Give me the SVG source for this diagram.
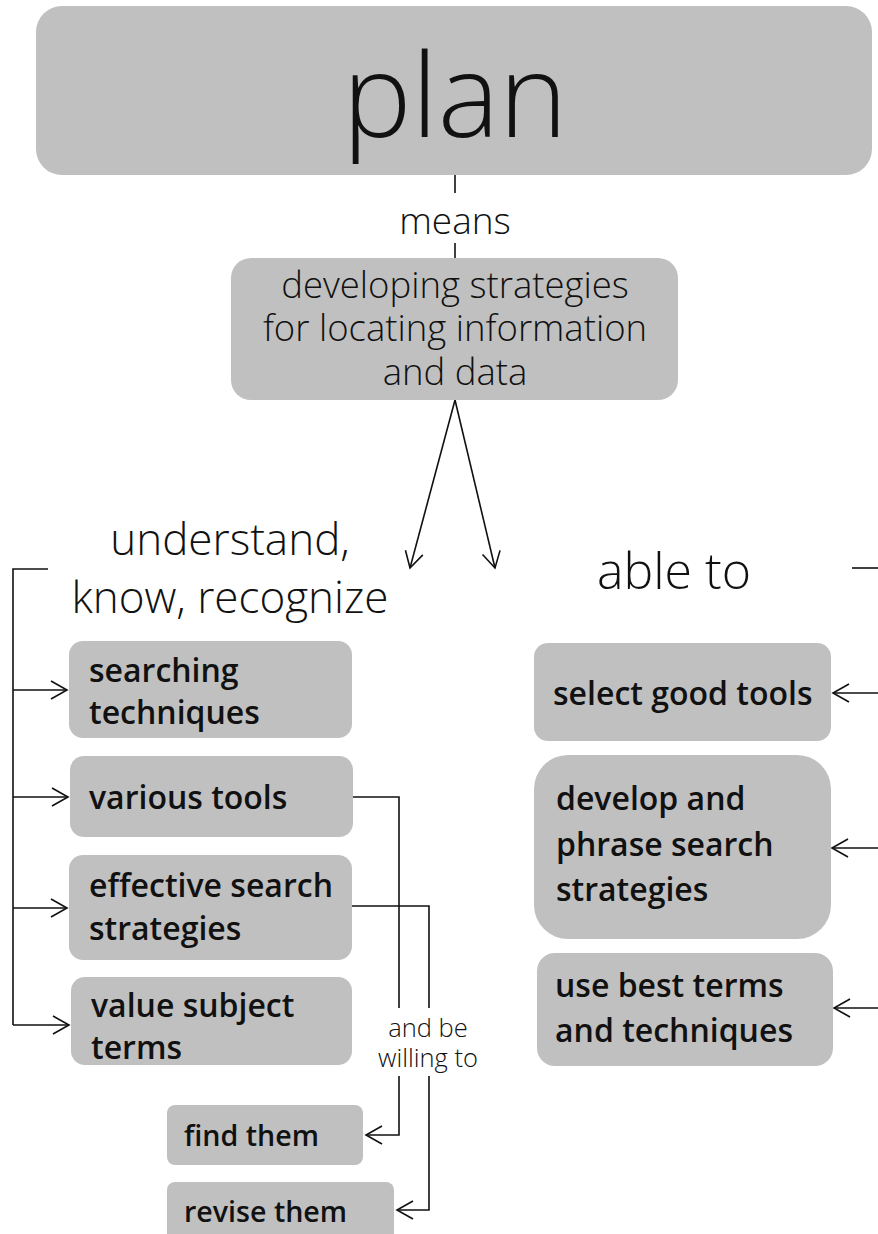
<svg xmlns="http://www.w3.org/2000/svg" width="878" height="1234" viewBox="0 0 878 1234">
<defs>
<style>
.box{fill:#c0c0c0;}
.lt{font-family:"Open Sans","Noto Sans","DejaVu Sans",sans-serif;font-weight:300;fill:#111;}
.bd{font-family:"Open Sans","Noto Sans","DejaVu Sans",sans-serif;font-weight:600;fill:#111;font-size:32px;}
.sm{font-size:28.6px;}
.ln{fill:none;stroke:#111;stroke-width:1.6;}
</style>
<marker id="ah" viewBox="0 0 20 20" refX="18" refY="10" markerWidth="20" markerHeight="20" markerUnits="userSpaceOnUse" orient="auto">
<path d="M2,1 L18,10 L2,19" fill="none" stroke="#111" stroke-width="1.6"/>
</marker>
</defs>
<rect width="878" height="1234" fill="#fff"/>

<g id="connectors">
<line class="ln" x1="455" y1="175" x2="455" y2="193"/>
<line class="ln" x1="455" y1="243" x2="455" y2="258"/>
<line class="ln" x1="455" y1="400" x2="410" y2="568" marker-end="url(#ah)"/>
<line class="ln" x1="455" y1="400" x2="495" y2="568" marker-end="url(#ah)"/>
<polyline class="ln" points="48,569 13,569 13,1025"/>
<line class="ln" x1="13" y1="690" x2="67" y2="690" marker-end="url(#ah)"/>
<line class="ln" x1="13" y1="797" x2="68" y2="797" marker-end="url(#ah)"/>
<line class="ln" x1="13" y1="908" x2="67" y2="908" marker-end="url(#ah)"/>
<line class="ln" x1="13" y1="1025" x2="69" y2="1025" marker-end="url(#ah)"/>
<polyline class="ln" points="353,797 399,797 399,1008"/>
<polyline class="ln" points="399,1076 399,1135 366,1135" marker-end="url(#ah)"/>
<polyline class="ln" points="352,906 429,906 429,1008"/>
<polyline class="ln" points="429,1076 429,1210 397,1210" marker-end="url(#ah)"/>
<line class="ln" x1="852" y1="568" x2="878" y2="568"/>
<line class="ln" x1="878" y1="693" x2="833" y2="693" marker-end="url(#ah)"/>
<line class="ln" x1="878" y1="848" x2="832" y2="848" marker-end="url(#ah)"/>
<line class="ln" x1="878" y1="1008" x2="834" y2="1008" marker-end="url(#ah)"/>
<text class="lt" x="455" y="234" font-size="37" text-anchor="middle">means</text>
<text class="lt" font-size="25.5" text-anchor="middle"><tspan x="428" y="1037">and be</tspan><tspan x="428" y="1067">willing to</tspan></text>
</g>

<g id="plan">
<rect class="box" x="36" y="6" width="836" height="169" rx="26"/>
<text class="lt" x="455" y="137" font-size="116" text-anchor="middle">plan</text>
</g>

<g id="developing">
<rect class="box" x="231" y="258" width="447" height="142" rx="20"/>
<text class="lt" font-size="36.5" text-anchor="middle"><tspan x="455" y="298">developing strategies</tspan><tspan x="455" y="341">for locating information</tspan><tspan x="455" y="385">and data</tspan></text>
</g>

<g id="understand">
<text class="lt" font-size="44" text-anchor="middle"><tspan x="230" y="555">understand,</tspan><tspan x="230" y="613">know, recognize</tspan></text>
</g>

<g id="ableto">
<text class="lt" x="674" y="589" font-size="50" text-anchor="middle">able to</text>
</g>

<g id="searching">
<rect class="box" x="69" y="641" width="283" height="97" rx="14"/>
<text class="bd"><tspan x="89" y="682">searching</tspan><tspan x="89" y="724">techniques</tspan></text>
</g>

<g id="various">
<rect class="box" x="70" y="756" width="283" height="81" rx="14"/>
<text class="bd" x="89" y="809">various tools</text>
</g>

<g id="effective">
<rect class="box" x="69" y="855" width="283" height="105" rx="14"/>
<text class="bd"><tspan x="89" y="897">effective search</tspan><tspan x="89" y="940">strategies</tspan></text>
</g>

<g id="value">
<rect class="box" x="71" y="977" width="281" height="88" rx="14"/>
<text class="bd"><tspan x="91" y="1017">value subject</tspan><tspan x="91" y="1059">terms</tspan></text>
</g>

<g id="find">
<rect class="box" x="167" y="1105" width="196" height="60" rx="8"/>
<text class="bd sm" x="184" y="1146">find them</text>
</g>

<g id="revise">
<rect class="box" x="167" y="1182" width="227" height="60" rx="8"/>
<text class="bd sm" x="184" y="1222">revise them</text>
</g>

<g id="select">
<rect class="box" x="534" y="643" width="297" height="98" rx="14"/>
<text class="bd" x="553" y="705">select good tools</text>
</g>

<g id="develop">
<rect class="box" x="534" y="755" width="297" height="184" rx="34"/>
<text class="bd"><tspan x="556" y="810">develop and</tspan><tspan x="556" y="856">phrase search</tspan><tspan x="556" y="901">strategies</tspan></text>
</g>

<g id="usebest">
<rect class="box" x="537" y="953" width="296" height="113" rx="18"/>
<text class="bd"><tspan x="555" y="997">use best terms</tspan><tspan x="555" y="1042">and techniques</tspan></text>
</g>
</svg>
